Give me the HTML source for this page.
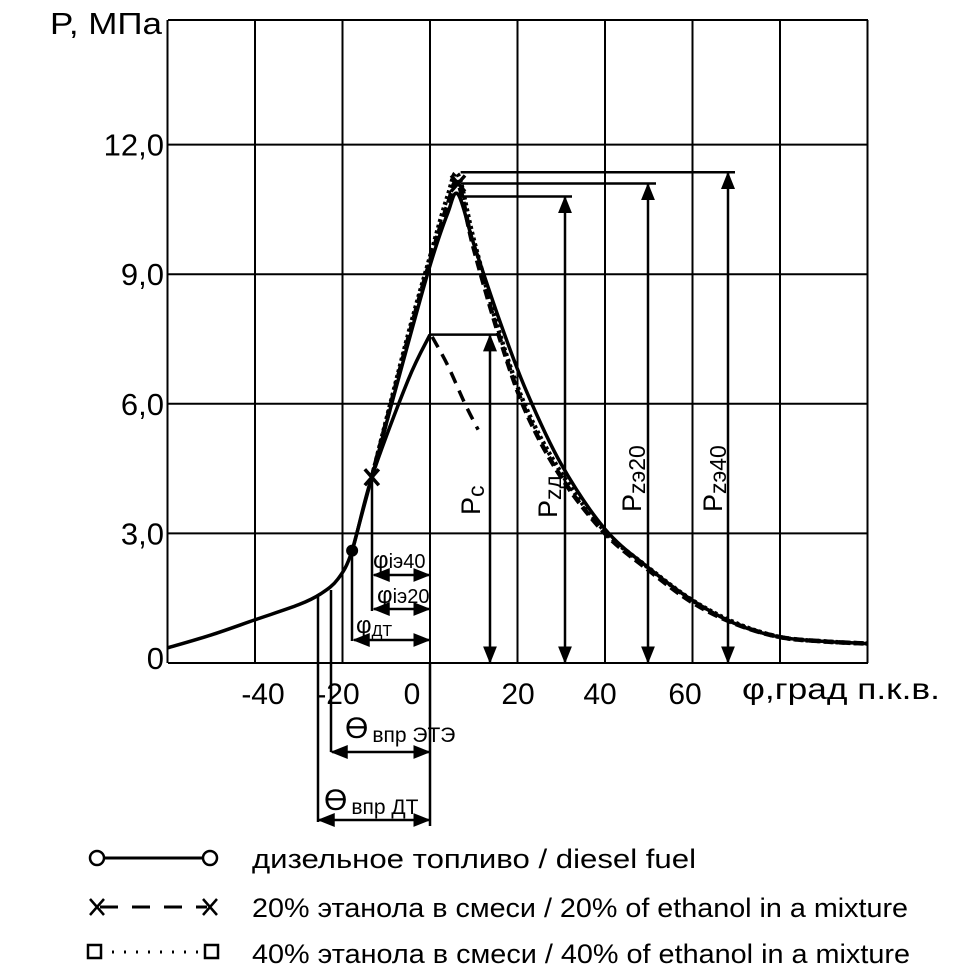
<!DOCTYPE html>
<html><head><meta charset="utf-8"><style>
html,body{margin:0;padding:0;background:#fff;}
svg{display:block;}
text{font-family:"Liberation Sans",sans-serif;fill:#000;}
</style></head><body>
<svg id="chart" width="980" height="979" viewBox="0 0 980 979" xmlns="http://www.w3.org/2000/svg">
<defs>
<marker id="ah" viewBox="0 0 10 10" refX="9" refY="5" markerWidth="7" markerHeight="7" orient="auto-start-reverse"><path d="M0,1 L10,5 L0,9 z" fill="#000"/></marker>
</defs>
<g id="grid"></g>
<g id="curves"></g>
<g id="annot"></g>
<text x="50" y="34" font-size="31" textLength="112" lengthAdjust="spacingAndGlyphs">P, МПа</text>
<text x="742" y="699" font-size="30" textLength="198" lengthAdjust="spacingAndGlyphs">φ,град п.к.в.</text>
<g font-size="27">
 <g>
  <line x1="97" y1="858" x2="210" y2="858" stroke="#000" stroke-width="3"/>
  <circle cx="97" cy="858" r="7" fill="#fff" stroke="#000" stroke-width="2.5"/>
  <circle cx="210" cy="858" r="7" fill="#fff" stroke="#000" stroke-width="2.5"/>
  <text x="252" y="868" textLength="444" lengthAdjust="spacingAndGlyphs">дизельное топливо / diesel fuel</text>
 </g>
 <g>
  <line x1="100" y1="907" x2="207" y2="907" stroke="#000" stroke-width="3" stroke-dasharray="18,14"/>
  <path d="M90,899 L104,915 M104,899 L90,915 M203,899 L217,915 M217,899 L203,915" stroke="#000" stroke-width="2.5"/>
  <text x="252" y="917" textLength="656" lengthAdjust="spacingAndGlyphs">20% этанола в смеси / 20% of ethanol in a mixture</text>
 </g>
 <g>
  <line x1="100" y1="952" x2="205" y2="952" stroke="#000" stroke-width="3" stroke-dasharray="2,10"/>
  <rect x="88" y="945" width="13" height="13" fill="#fff" stroke="#000" stroke-width="2.5"/>
  <rect x="205" y="945" width="13" height="13" fill="#fff" stroke="#000" stroke-width="2.5"/>
  <text x="252" y="963" textLength="658" lengthAdjust="spacingAndGlyphs">40% этанола в смеси / 40% of ethanol in a mixture</text>
 </g>
</g>
</svg>
<script>
const yTicks=[0,3,6,9,12];
const yTickLabels=["0","3,0","6,0","9,0","12,0"];
const xGrid=[-60,-40,-20,0,20,40,60,80,100];
const xTickLabels=["-40","-20","0","20","40","60"];
const xTickPos=[263,338,412,518,600,685];
const motorDeg=[-60,-50,-40,-30,-25,-21,-17.8,-13.3,-5,0];
const motorP=[0.35,0.65,1.0,1.35,1.6,1.95,2.6,4.3,6.55,7.6];
const expDeg=[0.5,4,8,11];
const expP=[7.55,6.9,6.0,5.4];
const dieselDeg=[-17.8,-13.3,-5,0,4,6.4,10,16,22,30,40,50,60,70,80,90,100];
const dieselP=[2.6,4.3,7.4,9.2,10.4,10.85,9.7,7.9,6.3,4.6,3.1,2.2,1.45,0.9,0.6,0.5,0.45];
const e20Deg=[-13.3,-5,0,4,6.4,10,16,22,30,40,50,60,70,80,90,100];
const e20P=[4.3,7.5,9.3,10.6,11.1,9.6,7.5,5.8,4.3,3.0,2.15,1.4,0.9,0.6,0.5,0.45];
const e40Deg=[-13.3,-5,0,4,6.4,10,16,22,30,40,50,60,70,80,90,100];
const e40P=[4.3,7.6,9.4,10.8,11.3,9.8,7.6,5.9,4.4,3.05,2.2,1.45,0.92,0.6,0.5,0.45];
const pc=7.6, pzd=10.8, pz20=11.1, pz40=11.36;

const NS="http://www.w3.org/2000/svg";
const X=d=>430+d*4.375;
const Y=p=>663-p*43.2;
function mk(tag,attrs,parent){const e=document.createElementNS(NS,tag);for(const k in attrs)e.setAttribute(k,attrs[k]);parent.appendChild(e);return e;}
function smooth(xs,ys){const p=xs.map((d,i)=>[X(d),Y(ys[i])]);let s="M"+p[0][0]+","+p[0][1];
 for(let i=0;i<p.length-1;i++){const p0=p[i-1]||p[i],p1=p[i],p2=p[i+1],p3=p[i+2]||p2;
 s+=" C"+(p1[0]+(p2[0]-p0[0])/6)+","+(p1[1]+(p2[1]-p0[1])/6)+" "+(p2[0]-(p3[0]-p1[0])/6)+","+(p2[1]-(p3[1]-p1[1])/6)+" "+p2[0]+","+p2[1];}return s;}
const grid=document.getElementById('grid');
const curves=document.getElementById('curves');
const an=document.getElementById('annot');
const svg=document.getElementById('chart');
xGrid.forEach(d=>{const l=mk('line',{x1:X(d),x2:X(d),y1:20,y2:663,stroke:'#000','stroke-width':2},grid);

});
yTicks.forEach(p=>{const l=mk('line',{x1:168,x2:868,y1:Y(p),y2:Y(p),stroke:'#000','stroke-width':2},grid);

});
mk('line',{x1:168,x2:868,y1:20,y2:20,stroke:'#000','stroke-width':2},grid);
yTicks.forEach((p,i)=>{const t=mk('text',{x:164,y:Y(p)+(p===0?6:11),'font-size':31,'text-anchor':'end'},svg);t.textContent=yTickLabels[i];

});
xTickLabels.forEach((s,i)=>{const t=mk('text',{x:xTickPos[i],y:704,'font-size':30,'text-anchor':'middle'},svg);t.textContent=s;

});
let c;
c=mk('path',{d:smooth(motorDeg,motorP),fill:'none',stroke:'#000','stroke-width':3.5},curves);


c=mk('path',{d:smooth(expDeg,expP),fill:'none',stroke:'#000','stroke-width':3.5,'stroke-dasharray':'12,8'},curves);


c=mk('path',{d:smooth(e40Deg,e40P),fill:'none',stroke:'#000','stroke-width':4.5,'stroke-dasharray':'3,3'},curves);


c=mk('path',{d:smooth(e20Deg,e20P),fill:'none',stroke:'#000','stroke-width':4.5,'stroke-dasharray':'10,5'},curves);


c=mk('path',{d:smooth(dieselDeg,dieselP),fill:'none',stroke:'#000','stroke-width':3.5},curves);


c=mk('circle',{cx:X(dieselDeg[0]),cy:Y(dieselP[0]),r:6,fill:'#000'},curves);


[[e20Deg[0],e20P[0]],[6.4,pz20]].forEach(q=>{c=mk('path',{d:`M${X(q[0])-7},${Y(q[1])-8} L${X(q[0])+7},${Y(q[1])+8} M${X(q[0])+7},${Y(q[1])-8} L${X(q[0])-7},${Y(q[1])+8}`,stroke:'#000','stroke-width':3.5},curves);

});
function peak(p,x0,x1,ax,name){const y=Y(p);
 let l=mk('line',{x1:x0,x2:x1,y1:y,y2:y,stroke:'#000','stroke-width':2.5},an);
 
 
 l=mk('line',{x1:ax,x2:ax,y1:y+1,y2:662,stroke:'#000','stroke-width':2.5,'marker-start':'url(#ah)','marker-end':'url(#ah)'},an);
 
 }
peak(pc,430,497,490,'pc');
peak(pzd,X(7),572,565,'pzd');
peak(pz20,X(7),656,648,'pz20');
peak(pz40,X(7),735,728,'pz40');
function vlabel(x,y,main,sub,name){const t=mk('text',{transform:`translate(${x},${y}) rotate(-90)`,'font-size':27},an);
 t.innerHTML=main+'<tspan font-size="23" dy="4">'+sub+'</tspan>';
 
 }
vlabel(480,515,'P','c','pc-label');
vlabel(557,518,'P','zд','pzd-label');
vlabel(641,512,'P','zэ20','pz20-label');
vlabel(722,512,'P','zэ40','pz40-label');
function vl(x,y1,y2,name){const l=mk('line',{x1:x,x2:x,y1:y1,y2:y2,stroke:'#000','stroke-width':2.5},an);
 
 }
vl(318,597,822,'theta-dt-start-line');
vl(331,590,752,'theta-ete-start-line');
vl(352,551,641,'phi-dt-start-line');
vl(372,478,611,'phi-ie20-start-line');
vl(430,663,826,'tdc-extension-line');
function harrow(x0,x1,y,name){const l=mk('line',{x1:x0+1,x2:x1-1,y1:y,y2:y,stroke:'#000','stroke-width':2.5,'marker-start':'url(#ah)','marker-end':'url(#ah)'},an);
 
 }
harrow(373,430,575,'phi-ie40-arrow');
harrow(373,430,609,'phi-ie20-arrow');
harrow(353,430,640,'phi-dt-arrow');
harrow(331,430,752,'theta-ete-arrow');
harrow(318,430,820,'theta-dt-arrow');
function lab(x,y,html,fs,name){const t=mk('text',{x:x,y:y,'font-size':fs},an);t.innerHTML=html;
 
 }
lab(373,568,'φ<tspan font-size="20">iэ40</tspan>',24,'phi-ie40-label');
lab(377,603,'φ<tspan font-size="20">iэ20</tspan>',24,'phi-ie20-label');
lab(356,633,'φ<tspan font-size="16" dy="3">ДТ</tspan>',24,'phi-dt-label');
lab(345,738,'ϴ<tspan font-size="21" dx="4" dy="4">впр ЭТЭ</tspan>',30,'theta-ete-label');
lab(324,810,'ϴ<tspan font-size="21" dx="4" dy="4">впр ДТ</tspan>',30,'theta-dt-label');
</script>
</body></html>
